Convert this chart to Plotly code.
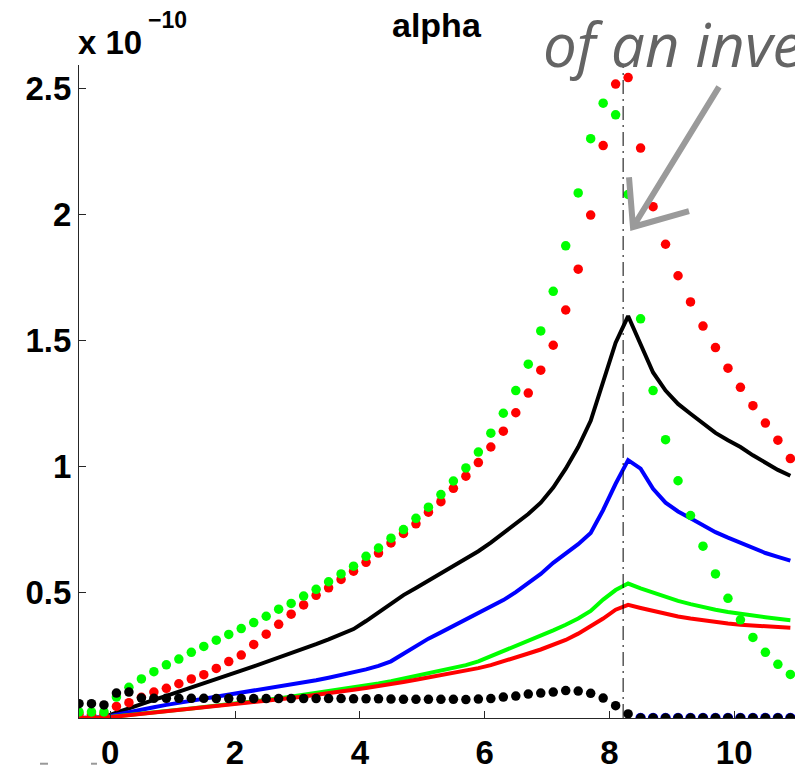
import plotly.graph_objects as go

# x positions (shared by all series)
X = [-0.5, -0.3, -0.1,
     0.1, 0.3, 0.5, 0.7, 0.9,
     1.1, 1.3, 1.5, 1.7, 1.9,
     2.1, 2.3, 2.5, 2.7, 2.9,
     3.1, 3.3, 3.5, 3.7, 3.9,
     4.1, 4.3, 4.5, 4.7, 4.9,
     5.1, 5.3, 5.5, 5.7, 5.9,
     6.1, 6.3, 6.5, 6.7, 6.9,
     7.1, 7.3, 7.5, 7.7, 7.9,
     8.1, 8.3, 8.5, 8.7, 8.9,
     9.1, 9.3, 9.5, 9.7, 9.9,
     10.1, 10.3, 10.5, 10.7, 10.9]

# values in units of 1e-10
black_line = [0, 0, 0.003,
              0.021, 0.039, 0.056, 0.072, 0.088,
              0.104, 0.120, 0.137, 0.154, 0.171,
              0.188, 0.205, 0.222, 0.240, 0.257,
              0.275, 0.293, 0.312, 0.332, 0.353,
              0.385, 0.418, 0.452, 0.488, 0.516,
              0.545, 0.575, 0.605, 0.633, 0.662,
              0.696, 0.733, 0.772, 0.810, 0.855,
              0.915, 0.990, 1.076, 1.180, 1.340,
              1.490, 1.596, 1.484, 1.372, 1.300,
              1.247, 1.208, 1.168, 1.132, 1.103,
              1.076, 1.043, 1.013, 0.985, 0.962]

blue_line = [0, 0, 0.002,
             0.013, 0.024, 0.034, 0.043, 0.052,
             0.060, 0.068, 0.076, 0.084, 0.092,
             0.100, 0.108, 0.116, 0.124, 0.132,
             0.141, 0.150, 0.160, 0.170, 0.181,
             0.193, 0.207, 0.225, 0.255, 0.285,
             0.315, 0.340, 0.366, 0.390, 0.414,
             0.440, 0.468, 0.500, 0.535, 0.572,
             0.616, 0.655, 0.690, 0.735, 0.826,
             0.930, 1.024, 0.990, 0.910, 0.855,
             0.820, 0.793, 0.765, 0.738, 0.716,
             0.695, 0.675, 0.655, 0.640, 0.625]

green_line = [0, 0, 0.001,
              0.007, 0.013, 0.018, 0.023, 0.028,
              0.033, 0.038, 0.043, 0.048, 0.054,
              0.060, 0.066, 0.072, 0.078, 0.085,
              0.092, 0.099, 0.106, 0.113, 0.120,
              0.128, 0.137, 0.146, 0.156, 0.166,
              0.177, 0.187, 0.197, 0.210, 0.225,
              0.245, 0.265, 0.285, 0.305, 0.325,
              0.348, 0.370, 0.395, 0.425, 0.470,
              0.508, 0.534, 0.515, 0.497, 0.480,
              0.465, 0.452, 0.440, 0.430, 0.421,
              0.413, 0.406, 0.400, 0.394, 0.388]

red_line = [0, 0, 0.001,
            0.006, 0.011, 0.016, 0.021, 0.026,
            0.031, 0.036, 0.041, 0.046, 0.051,
            0.056, 0.061, 0.067, 0.073, 0.079,
            0.085, 0.091, 0.098, 0.105, 0.112,
            0.119, 0.126, 0.134, 0.143, 0.152,
            0.161, 0.170, 0.178, 0.187, 0.198,
            0.210, 0.224, 0.240, 0.256, 0.272,
            0.290, 0.310, 0.335, 0.365, 0.395,
            0.430, 0.449, 0.437, 0.425, 0.414,
            0.403, 0.395, 0.387, 0.380, 0.375,
            0.370, 0.367, 0.364, 0.361, 0.358]

red_dots = [0.015, 0.015, 0.015,
            0.046, 0.061, 0.082, 0.103, 0.118,
            0.136, 0.155, 0.172, 0.197, 0.224,
            0.250, 0.292, 0.333, 0.372, 0.412,
            0.449, 0.487, 0.517, 0.550, 0.583,
            0.618, 0.655, 0.695, 0.733, 0.771,
            0.817, 0.859, 0.912, 0.960, 1.014,
            1.076, 1.139, 1.212, 1.290, 1.381,
            1.480, 1.620, 1.782, 1.997, 2.273,
            2.517, 2.543, 2.263, 2.030, 1.881,
            1.756, 1.652, 1.556, 1.471, 1.389,
            1.313, 1.240, 1.171, 1.103, 1.030]

green_dots = [0.024, 0.024, 0.024,
              0.083, 0.122, 0.155, 0.184, 0.211,
              0.234, 0.261, 0.284, 0.309, 0.332,
              0.355, 0.379, 0.404, 0.432, 0.455,
              0.484, 0.511, 0.541, 0.572, 0.603,
              0.642, 0.675, 0.714, 0.748, 0.793,
              0.837, 0.887, 0.941, 0.993, 1.056,
              1.131, 1.210, 1.300, 1.405, 1.537,
              1.694, 1.875, 2.085, 2.300, 2.441,
              2.395, 2.079, 1.585, 1.300, 1.105,
              0.942, 0.804, 0.682, 0.572, 0.475,
              0.390, 0.320, 0.261, 0.213, 0.173]

black_dots = [0.057, 0.057, 0.052,
              0.099, 0.103, 0.079, 0.078, 0.078,
              0.078, 0.078, 0.078, 0.077, 0.077,
              0.077, 0.077, 0.077, 0.077, 0.077,
              0.077, 0.077, 0.077, 0.077, 0.076,
              0.076, 0.076, 0.075, 0.074, 0.074,
              0.074, 0.074, 0.074, 0.073, 0.075,
              0.077, 0.083, 0.087, 0.095, 0.099,
              0.103, 0.109, 0.107, 0.098, 0.079,
              0.049, 0.016, 0.0, 0.0, 0.0,
              0.0, 0.0, 0.0, 0.0, 0.0,
              0.0, 0.0, 0.0, 0.0, 0.0]

blue_dots_x = [8.5, 8.7, 8.9, 9.1, 9.3, 9.5, 9.7, 9.9, 10.1, 10.3, 10.5, 10.7, 10.9]
blue_dots = [0.0] * len(blue_dots_x)

peak_x = 8.22  # dash-dot marker line
x_ticks = [0, 2, 4, 6, 8, 10]
y_ticks = [0.5, 1, 1.5, 2, 2.5]
y_ticktext = ["0.5", "1", "1.5", "2", "2.5"]

W, H = 795, 771
ML, MR, MT, MB = 79, 0, 65, 49

fig = go.Figure()
LW = 4.0
for ys, col in [(black_line, "#000000"), (blue_line, "#0000FF"),
                (green_line, "#00FF00"), (red_line, "#FF0000")]:
    fig.add_trace(go.Scatter(x=X, y=ys, mode="lines",
                             line=dict(color=col, width=LW), hoverinfo="skip"))

MS = 9.5
fig.add_trace(go.Scatter(x=X, y=red_dots, mode="markers",
                         marker=dict(color="#FF0000", size=MS, line=dict(width=0))))
fig.add_trace(go.Scatter(x=X, y=green_dots, mode="markers",
                         marker=dict(color="#00FF00", size=MS, line=dict(width=0))))
fig.add_trace(go.Scatter(x=blue_dots_x, y=blue_dots, mode="markers",
                         marker=dict(color="#0000FF", size=MS + 1, line=dict(width=0))))
fig.add_trace(go.Scatter(x=X, y=black_dots, mode="markers",
                         marker=dict(color="#000000", size=MS, line=dict(width=0))))

fig.add_shape(type="line", x0=peak_x, x1=peak_x, xref="x", yref="paper", y0=0, y1=1,
              line=dict(color="#000000", width=1, dash="14px,5px,2px,5px"))

plot_h = H - MT - MB
plot_w = W - ML - MR


def py(p):
    return (H - MB - p) / plot_h


def px(p):
    return (p - ML) / plot_w


FONT = "Liberation Sans, Arial, Helvetica, sans-serif"
ann = []
ann.append(dict(text="<b>alpha</b>", xref="paper", yref="paper", x=px(437), y=py(25),
                xanchor="center", yanchor="middle", showarrow=False,
                font=dict(family=FONT, size=34, color="#000000")))
ann.append(dict(text="<b>x 10</b>", xref="paper", yref="paper", x=px(76), y=py(42),
                xanchor="left", yanchor="middle", showarrow=False,
                font=dict(family=FONT, size=33, color="#000000")))
ann.append(dict(text="<b>\u221210</b>", xref="paper", yref="paper", x=px(146), y=py(20),
                xanchor="left", yanchor="middle", showarrow=False,
                font=dict(family=FONT, size=23, color="#000000")))
ann.append(dict(text="<i>of an inve</i>", xref="paper", yref="paper", x=px(541), y=py(44),
                xanchor="left", yanchor="middle", showarrow=False,
                font=dict(family="Open Sans, sans-serif", size=60, color="#646464")))
fig.update_layout(annotations=ann)

# hand-drawn style grey arrow: shaft and open V head
tip = (633, 228)
arrow_path = (f"M {px(719)},{py(87)} L {px(tip[0])},{py(tip[1])} "
              f"M {px(629)},{py(178)} L {px(tip[0])},{py(tip[1])} L {px(689)},{py(212)}")
fig.add_shape(type="path", xref="paper", yref="paper", path=arrow_path,
              line=dict(color="#9a9a9a", width=6))

# small grey fragments at the bottom-left edge
for xa, xb in [(40, 48), (91, 97)]:
    fig.add_shape(type="line", xref="paper", yref="paper", x0=px(xa), x1=px(xb),
                  y0=py(768), y1=py(768), line=dict(color="#999999", width=2))

fig.update_layout(
    width=W, height=H,
    margin=dict(l=ML, r=MR, t=MT, b=MB, pad=0),
    paper_bgcolor="#FFFFFF", plot_bgcolor="#FFFFFF",
    showlegend=False,
    font=dict(family=FONT, size=33, color="#000000"),
    xaxis=dict(range=[-0.5, -0.5 + plot_w / 62.4], tickvals=x_ticks,
               ticktext=[f"<b>{v}</b>" for v in x_ticks],
               showline=True, linecolor="#262626", linewidth=1,
               ticks="inside", ticklen=7, tickcolor="#262626", tickwidth=1,
               showgrid=False, zeroline=False, ticklabelstandoff=5,
               tickfont=dict(family=FONT, size=33, color="#000000")),
    yaxis=dict(range=[0, plot_h / 253.4], tickvals=y_ticks,
               ticktext=[f"<b>{t}</b>" for t in y_ticktext],
               showline=True, linecolor="#262626", linewidth=1,
               ticks="inside", ticklen=7, tickcolor="#262626", tickwidth=1,
               showgrid=False, zeroline=False, ticklabelstandoff=0,
               tickfont=dict(family=FONT, size=33, color="#000000")),
)

fig.write_html("out.html")
